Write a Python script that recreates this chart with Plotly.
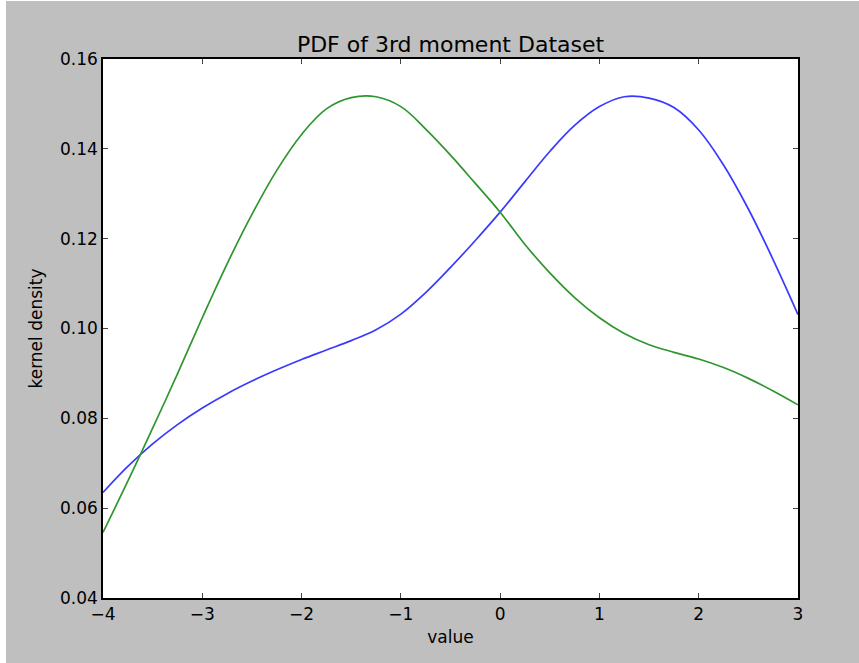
import plotly.graph_objects as go

# ---- data ----
x_grid = [-4.0, -3.75, -3.5, -3.25, -3.0, -2.75, -2.5, -2.25, -2.0, -1.75, -1.5, -1.25, -1.0,
          -0.75, -0.5, -0.25, 0.0, 0.25, 0.5, 0.75, 1.0, 1.25, 1.5, 1.75, 2.0, 2.25,
          2.5, 2.75, 3.0]
y_blue = [0.0635, 0.0693, 0.0743, 0.0786, 0.0823, 0.0855, 0.0883, 0.0908, 0.0931, 0.0952,
          0.0973, 0.0997, 0.1032, 0.1080, 0.1136, 0.1196, 0.1259, 0.1327, 0.1394, 0.1452,
          0.1494, 0.1516, 0.1513, 0.1492, 0.1442, 0.1364, 0.1266, 0.1153, 0.1031]
y_green = [0.0546, 0.0660, 0.0778, 0.0899, 0.1024, 0.1144, 0.1254, 0.1352, 0.1432, 0.1489,
           0.1514, 0.1516, 0.1494, 0.1444, 0.1386, 0.1323, 0.1259, 0.1187, 0.1124, 0.1069,
           0.1024, 0.0989, 0.0964, 0.0947, 0.0932, 0.0913, 0.0889, 0.0861, 0.0830]

x_ticks = [-4, -3, -2, -1, 0, 1, 2, 3]
y_ticks = [0.04, 0.06, 0.08, 0.10, 0.12, 0.14, 0.16]

title_text = "PDF of 3rd moment Dataset"
x_label = "value"
y_label = "kernel density"

W, H = 859, 663
L, R, T, B = 103, 61, 59, 65
pw, ph = W - L - R, H - T - B

fig = go.Figure()
fig.add_trace(go.Scatter(x=x_grid, y=y_blue, mode="lines",
                         line=dict(color="#3a3aff", width=1.7, shape="spline", smoothing=1.1),
                         showlegend=False, hoverinfo="skip"))
fig.add_trace(go.Scatter(x=x_grid, y=y_green, mode="lines",
                         line=dict(color="#2f962f", width=1.7, shape="spline", smoothing=1.1),
                         showlegend=False, hoverinfo="skip"))

axis_common = dict(
    showgrid=False, zeroline=False, showline=True, linecolor="black", linewidth=1.5,
    mirror="ticks", ticks="inside", ticklen=5, tickwidth=1, tickcolor="#444444",
    tickfont=dict(family="DejaVu Sans", size=17, color="black"),
)

fig.update_xaxes(range=[-4, 3], tickvals=x_ticks,
                 ticktext=[("\u2212" + str(-v)) if v < 0 else str(v) for v in x_ticks],
                 title=dict(text=x_label, font=dict(family="DejaVu Sans", size=17, color="black"), standoff=8),
                 **axis_common)
fig.update_yaxes(range=[0.04, 0.16], tickvals=y_ticks, ticktext=["%.2f" % v for v in y_ticks],
                 title=dict(text=y_label, font=dict(family="DejaVu Sans", size=17, color="black"), standoff=13),
                 **axis_common)

# white strips at top and left of the image (outside the gray figure)
fig.add_shape(type="rect", xref="paper", yref="paper", x0=-L / pw - 0.01, x1=(6 - L) / pw,
              y0=-B / ph - 0.01, y1=(H - T) / ph + 0.01, fillcolor="white", line_width=0, layer="above")
fig.add_shape(type="rect", xref="paper", yref="paper", x0=-L / pw - 0.01, x1=(W - L) / pw + 0.01,
              y0=(H - T - 7) / ph, y1=(H - T) / ph + 0.01, fillcolor="white", line_width=0, layer="above")

fig.update_layout(
    width=W, height=H,
    margin=dict(l=L, r=R, t=T, b=B),
    paper_bgcolor="#bfbfbf", plot_bgcolor="white",
    title=dict(text=title_text, x=(L + pw / 2) / W, xanchor="center", y=1 - 44 / H, yanchor="middle",
               font=dict(family="DejaVu Sans", size=22, color="black")),
    font=dict(family="DejaVu Sans", color="black"),
)

fig.write_html("out.html")
